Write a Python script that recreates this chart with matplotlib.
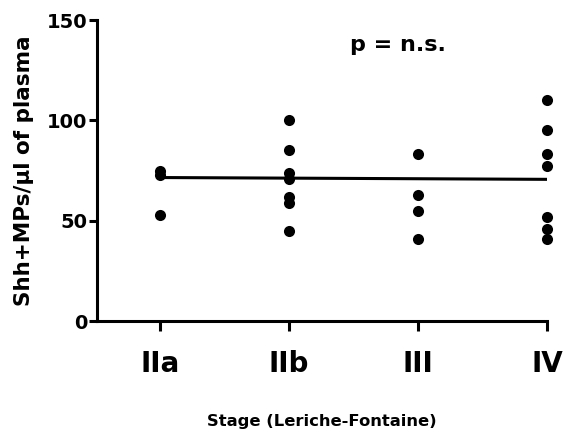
import matplotlib
matplotlib.use("Agg")
import matplotlib.pyplot as plt

# Shh+ microparticles per stage
stages = ["IIa", "IIb", "III", "IV"]
vals_IIa = [75, 73, 53]
vals_IIb = [100, 85, 74, 71, 62, 59, 45]
vals_III = [83, 63, 55, 41]
vals_IV = [110, 95, 83, 77, 52, 46, 41]
groups = [vals_IIa, vals_IIb, vals_III, vals_IV]

# trend line ends (at IIa and IV)
trend = [71.5, 70.6]

plt.rcParams["font.family"] = ["DejaVu Sans"]
plt.rcParams["font.weight"] = "bold"

fig = plt.figure(figsize=(5.63, 4.41), dpi=100)
ax = fig.add_axes([0.1723, 0.2721, 0.7993, 0.6825])

for i, g in enumerate(groups):
  ax.scatter([i] * len(g), g, s=64, color="black", zorder=3, clip_on=False, linewidths=0)

ax.plot([0, 3], trend, color="black", lw=2.2, zorder=2)

ax.text(1.84, 137.5, "p = n.s.", ha="center", va="center", fontsize=16, fontweight="bold")

ax.set_xlim(-0.49, 3.0)
ax.set_ylim(0, 150)
ax.set_xticks(range(len(stages)))
ax.set_xticklabels(stages, fontsize=20, fontweight="bold")
ax.set_yticks([0, 50, 100, 150])
ax.tick_params(axis="y", labelsize=14, width=2.2, length=6, pad=1)
ax.tick_params(axis="x", width=2.2, length=7, pad=14)

for s in ["top", "right"]:
  ax.spines[s].set_visible(False)
for s in ["left", "bottom"]:
  ax.spines[s].set_linewidth(2.2)

ax.set_ylabel("Shh+MPs/\u00b5l of plasma", fontsize=15.5, fontweight="bold", labelpad=9)
ax.set_xlabel("Stage (Leriche-Fontaine)", fontsize=11.8, fontweight="bold", labelpad=26)

fig.savefig("out.png", dpi=100)
